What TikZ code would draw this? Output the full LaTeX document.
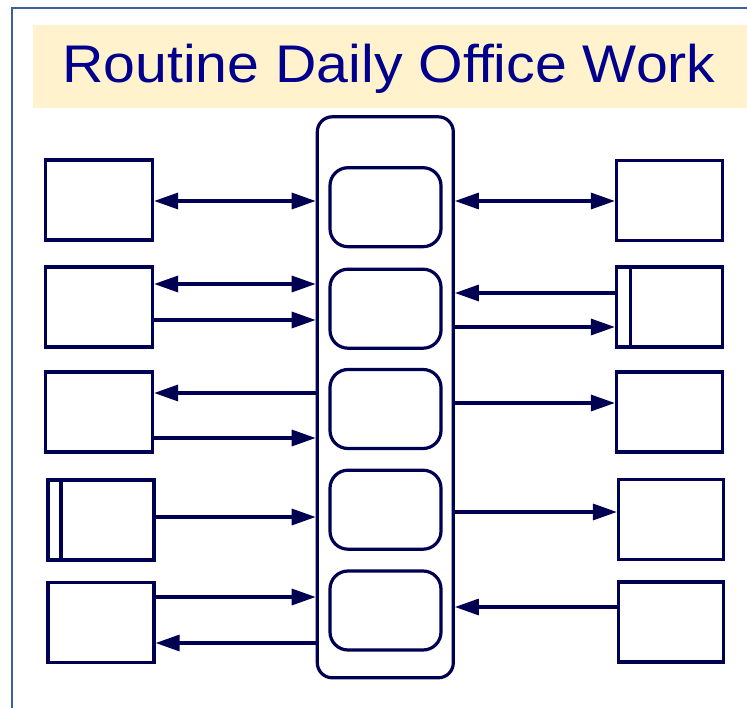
\documentclass[tikz,border=0pt]{standalone}
\usepackage{fontspec}
\newfontfamily\titlefont[FakeStretch=1.08]{Liberation Sans}
\usetikzlibrary{arrows.meta}
\definecolor{lnavy}{RGB}{0,0,82}
\definecolor{titleblue}{RGB}{0,0,140}
\definecolor{cream}{RGB}{255,242,204}
\definecolor{framecol}{RGB}{62,96,150}
\begin{document}
\begin{tikzpicture}[x=1pt,y=-1pt,
  box/.style={draw=lnavy,line width=3.2pt,rectangle,minimum width=106pt,minimum height=80pt,inner sep=0pt},
  proc/.style={draw=lnavy,line width=3.2pt,rectangle,rounded corners=18pt,minimum width=111pt,minimum height=79pt,inner sep=0pt},
  cont/.style={draw=lnavy,line width=3.2pt,rectangle,rounded corners=15pt,minimum width=136pt,minimum height=561pt,inner sep=0pt},
  arr/.style={draw=lnavy,line width=3.2pt,-{Triangle[length=24pt,width=16pt]}},
  darr/.style={draw=lnavy,line width=3.2pt,{Triangle[length=24pt,width=16pt]}-{Triangle[length=24pt,width=16pt]}},
  divider/.style={draw=lnavy,line width=3.2pt}
]
\useasboundingbox (0,0) rectangle (747,708);
% frame and title band
\draw[framecol,line width=2.5pt] (12,708) -- (12,8) -- (747,8);
\fill[cream] (33,25) rectangle (747,108);
\node[anchor=base,text=titleblue,font=\titlefont\fontsize{53}{60}\selectfont] (title) at (389,83) {Routine Daily Office Work};

% central container and process boxes
\node[cont] (C) at (385.3,397.3) {};
\node[proc] (P1) at (385.5,207.2) {};
\node[proc] (P2) at (385.5,308.7) {};
\node[proc] (P3) at (385.5,409) {};
\node[proc] (P4) at (385.5,509.7) {};
\node[proc] (P5) at (385.5,610.5) {};

% left boxes
\node[box,minimum width=107pt] (L1) at (99,200) {};
\node[box,minimum width=107pt] (L2) at (99,307) {};
\node[box,minimum width=107pt] (L3) at (99,412) {};
\node[box] (L4) at (101,520) {};
\node[box] (L5) at (101,622.5) {};
\draw[divider] ([xshift=14.5pt]L4.north west) -- ([xshift=14.5pt]L4.south west);

% right boxes
\node[box] (R1) at (669.5,200.5) {};
\node[box] (R2) at (669.5,307) {};
\node[box] (R3) at (669.5,412) {};
\node[box,minimum width=105pt] (R4) at (671,519.5) {};
\node[box,minimum width=105pt] (R5) at (671,622) {};
\draw[divider] ([xshift=15.5pt]R2.north west) -- ([xshift=15.5pt]R2.south west);

% y levels of connectors
\coordinate (ya) at (0,201);
\coordinate (yb) at (0,284);
\coordinate (yc) at (0,320);
\coordinate (yd) at (0,393);
\coordinate (ye) at (0,438);
\coordinate (yf) at (0,517);
\coordinate (yg) at (0,597);
\coordinate (yh) at (0,643);
\coordinate (yi) at (0,293);
\coordinate (yj) at (0,327);
\coordinate (yk) at (0,403);
\coordinate (yl) at (0,512);
\coordinate (ym) at (0,607);

% left connectors
\draw[darr] (L1.east |- ya) -- (C.west |- ya);
\draw[darr] (L2.east |- yb) -- (C.west |- yb);
\draw[arr] (L2.east |- yc) -- (C.west |- yc);
\draw[arr] (C.west |- yd) -- (L3.east |- yd);
\draw[arr] (L3.east |- ye) -- (C.west |- ye);
\draw[arr] (L4.east |- yf) -- (C.west |- yf);
\draw[arr] (L5.east |- yg) -- (C.west |- yg);
\draw[arr] (C.west |- yh) -- (L5.east |- yh);

% right connectors
\draw[darr] (C.east |- ya) -- (R1.west |- ya);
\draw[arr] (R2.west |- yi) -- (C.east |- yi);
\draw[arr] (C.east |- yj) -- (R2.west |- yj);
\draw[arr] (C.east |- yk) -- (R3.west |- yk);
\draw[arr] (C.east |- yl) -- (R4.west |- yl);
\draw[arr] (R5.west |- ym) -- (C.east |- ym);
\end{tikzpicture}
\end{document}
